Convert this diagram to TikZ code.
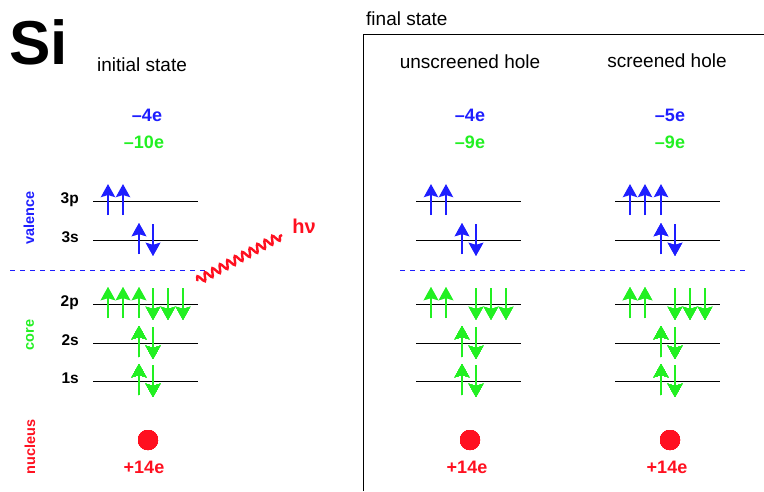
\documentclass[tikz,border=0pt]{standalone}
\usepackage{fontspec}
\setmainfont{Liberation Sans}
\usepackage{xcolor}
\usetikzlibrary{arrows.meta,decorations.pathmorphing}
\definecolor{valblue}{HTML}{1E1EFF}
\definecolor{coregreen}{HTML}{22F022}
\definecolor{nucred}{HTML}{FF1020}
\newcommand\fsz[1]{\fontsize{#1}{#1}\selectfont}
\newcommand\upspin[3]{\draw[spin,#1,shift={(#2)}] (#3,14) -- (#3,-17);}
\newcommand\dnspin[3]{\draw[spin,#1,shift={(#2)}] (#3,-16) -- (#3,16);}

\begin{document}
\begin{tikzpicture}[x=1pt,y=-1pt,
  level/.style={line width=0.8pt},
  spin/.style={line width=2.8pt,-{Stealth[length=13pt,width=14pt,inset=2pt]}},
  shell/.style={font=\fsz{15.5}\bfseries,inner sep=0pt,anchor=mid east},
  head/.style={font=\fsz{19},inner sep=0pt,anchor=base},
  charge/.style={font=\fsz{18}\bfseries,inner sep=0pt,anchor=base},
  side/.style={font=\fsz{14.5}\bfseries,rotate=90,inner sep=0pt},
  nucleus/.style={circle,fill=nucred,minimum size=20pt,inner sep=0pt},
  divider/.style={valblue,line width=0.8pt,dash pattern=on 5pt off 5pt}]
  \useasboundingbox (0,0) rectangle (764,491);
  \node[font=\fsz{62}\bfseries,inner sep=0pt,anchor=base west] (si) at (9,64) {Si};
  \node[head] (initial) at (142,71) {initial state};
  \node[head,anchor=base west] (final) at (366,25) {final state};
  \node[head] (unscr) at (470,68) {unscreened hole};
  \node[head] (scr) at (667,67.5) {screened hole};
  \draw[line width=0.8pt] (363,491) -- (363,34) -- (764,34);
  \node[side,valblue] (valence) at (29,218) {valence};
  \node[side,coregreen] (core) at (30,335) {core};
  \node[side,nucred] (nucl) at (30,447) {nucleus};
  \foreach \l/\y in {3p/201,3s/240,2p/304,2s/343,1s/381}
    \node[shell] (lab-\l) at (79,\y) {\l};
  \foreach \c/\x in {ini/93,uns/416,scr/615}
    \foreach \l/\y in {3p/201,3s/240,2p/304,2s/343,1s/381}
      \draw[level] (\x,\y) coordinate (\c-\l) -- +(105,0);
  \draw[divider] (10,270) -- (207,270);
  \draw[divider] (400,270) -- (748,270);
  % initial state
  \node[charge,valblue] (ini-val) at (147,121) {–4e};
  \node[charge,coregreen] (ini-core) at (144,148) {–10e};
  \foreach \s in {15,30} \upspin{valblue}{ini-3p}{\s}
  \upspin{valblue}{ini-3s}{46} \dnspin{valblue}{ini-3s}{60}
  \foreach \s in {15,30,46} \upspin{coregreen}{ini-2p}{\s}
  \foreach \s in {60,75,90} \dnspin{coregreen}{ini-2p}{\s}
  \foreach \l in {2s,1s} {\upspin{coregreen}{ini-\l}{46} \dnspin{coregreen}{ini-\l}{60}}
  \node[nucleus] (nuc-ini) at (148,440) {};
  \node[charge,nucred] (z-ini) at (144,473) {+14e};
  % unscreened hole
  \node[charge,valblue] (uns-val) at (470,121) {–4e};
  \node[charge,coregreen] (uns-core) at (470,148) {–9e};
  \foreach \s in {15,30} \upspin{valblue}{uns-3p}{\s}
  \upspin{valblue}{uns-3s}{46} \dnspin{valblue}{uns-3s}{60}
  \foreach \s in {15,30} \upspin{coregreen}{uns-2p}{\s}
  \foreach \s in {60,75,90} \dnspin{coregreen}{uns-2p}{\s}
  \foreach \l in {2s,1s} {\upspin{coregreen}{uns-\l}{46} \dnspin{coregreen}{uns-\l}{60}}
  \node[nucleus] (nuc-uns) at (470,440) {};
  \node[charge,nucred] (z-uns) at (467,473) {+14e};
  % screened hole
  \node[charge,valblue] (scr-val) at (670,121) {–5e};
  \node[charge,coregreen] (scr-core) at (670,148) {–9e};
  \foreach \s in {15,30,46} \upspin{valblue}{scr-3p}{\s}
  \upspin{valblue}{scr-3s}{46} \dnspin{valblue}{scr-3s}{60}
  \foreach \s in {15,30} \upspin{coregreen}{scr-2p}{\s}
  \foreach \s in {60,75,90} \dnspin{coregreen}{scr-2p}{\s}
  \foreach \l in {2s,1s} {\upspin{coregreen}{scr-\l}{46} \dnspin{coregreen}{scr-\l}{60}}
  \node[nucleus] (nuc-scr) at (670,440) {};
  \node[charge,nucred] (z-scr) at (667,473) {+14e};
  % photon
  \coordinate (ph-in) at (197,281);
  \coordinate (ph-out) at (282,235);
  \draw[nucred,line width=2.4pt,decorate,decoration={snake,amplitude=4pt,segment length=8.5pt}] (ph-in) -- (ph-out);
  \node[font=\fsz{20}\bfseries,nucred,inner sep=0pt,anchor=base] (hnu) at (304,233) {hν};
\end{tikzpicture}
\end{document}
